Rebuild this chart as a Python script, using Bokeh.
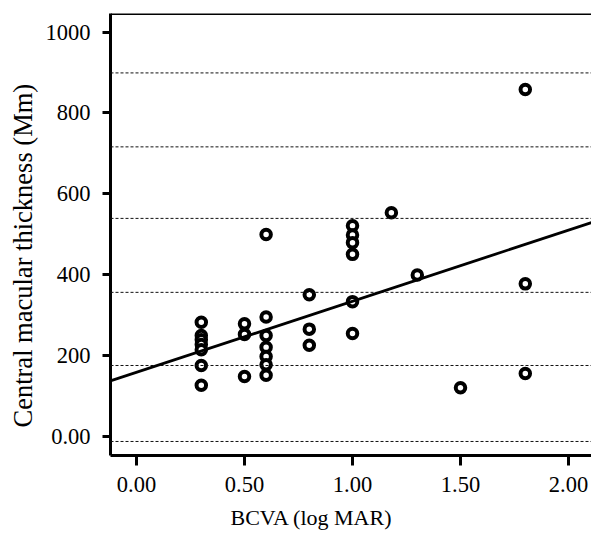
from bokeh.plotting import figure
from bokeh.models import FixedTicker, Span, Slope, Range1d, ColumnDataSource, Title
from bokeh.embed import file_html
from bokeh.resources import INLINE

# ---- data ----
bcva = [0.30, 0.30, 0.30, 0.30, 0.30, 0.30, 0.30,
        0.50, 0.50, 0.50,
        0.60, 0.60, 0.60, 0.60, 0.60, 0.60, 0.60,
        0.80, 0.80, 0.80,
        1.00, 1.00, 1.00, 1.00, 1.00, 1.00,
        1.18, 1.30, 1.50,
        1.80, 1.80, 1.80]
cmt = [282, 249, 239, 227, 214, 175, 126,
       278, 252, 148,
       499, 295, 249, 220, 197, 177, 151,
       350, 265, 225,
       521, 498, 479, 450, 333, 254,
       553, 399, 120,
       858, 377, 155]

ref_lines = [-13, 175, 356, 539, 716, 899]   # dashed horizontal reference lines
fit_intercept = 158
fit_slope = 176

x_ticks = [0.0, 0.5, 1.0, 1.5, 2.0]
x_tick_labels = ["0.00", "0.50", "1.00", "1.50", "2.00"]
y_ticks = [0, 200, 400, 600, 800, 1000]
y_tick_labels = ["0.00", "200", "400", "600", "800", "1000"]
x_title = "BCVA (log MAR)"
y_title = "Central macular thickness (Mm)"

FONT = "Liberation Serif"

# layout (pixels)
W, H = 591, 538
FL, FR, FT, FB = 110, 591, 13, 456
X0, X1 = -0.1204, 2.1065
Y0, Y1 = -47.7, 1046.0

p = figure(width=W, height=H, output_backend="svg", toolbar_location=None,
           x_range=Range1d(X0, X1), y_range=Range1d(Y0, Y1),
           min_border_left=FL, min_border_right=W - FR, min_border_top=FT,
           min_border_bottom=H - FB)
p.background_fill_color = "white"
p.border_fill_color = "white"
p.outline_line_color = None
p.xgrid.visible = False
p.ygrid.visible = False

for val in ref_lines:
    p.add_layout(Span(location=val, dimension="width", line_color="#111111",
                      line_width=1, line_dash="3 2"))

p.add_layout(Span(location=Y1, dimension="width",
                  line_color="black", line_width=3))

p.add_layout(Slope(gradient=fit_slope, y_intercept=fit_intercept,
                   line_color="black", line_width=2.8))

src = ColumnDataSource(dict(x=bcva, y=cmt))
p.scatter("x", "y", source=src, marker="circle", size=9.5,
          fill_color="white", line_color="black", line_width=4)

p.xaxis.ticker = FixedTicker(ticks=x_ticks)
p.xaxis.major_label_overrides = {t: l for t, l in zip(x_ticks, x_tick_labels)}
p.yaxis.ticker = FixedTicker(ticks=y_ticks)
p.yaxis.major_label_overrides = {t: l for t, l in zip(y_ticks, y_tick_labels)}

for ax in (p.xaxis, p.yaxis):
    ax.axis_line_color = "black"
    ax.axis_line_width = 3
    ax.major_tick_line_color = "black"
    ax.major_tick_line_width = 3
    ax.major_tick_in = 0
    ax.minor_tick_line_color = None
    ax.major_label_text_font = FONT
    ax.major_label_text_font_size = "22.5px"
    ax.major_label_text_color = "black"

p.xaxis.major_tick_out = 10
p.xaxis.major_label_standoff = 11
p.yaxis.major_tick_out = 8
p.yaxis.major_label_standoff = 12

# axis titles as side-panel titles, shifted to where the reference has them
p.add_layout(Title(text=x_title, align="left", offset=120, standoff=17,
                   text_font=FONT, text_font_size="22px",
                   text_font_style="normal", text_color="black"), "below")
p.add_layout(Title(text=y_title, align="left", offset=28, standoff=10,
                   text_font=FONT, text_font_size="26.5px",
                   text_font_style="normal", text_color="black"), "left")

open("out.html", "w").write(file_html(p, INLINE))
